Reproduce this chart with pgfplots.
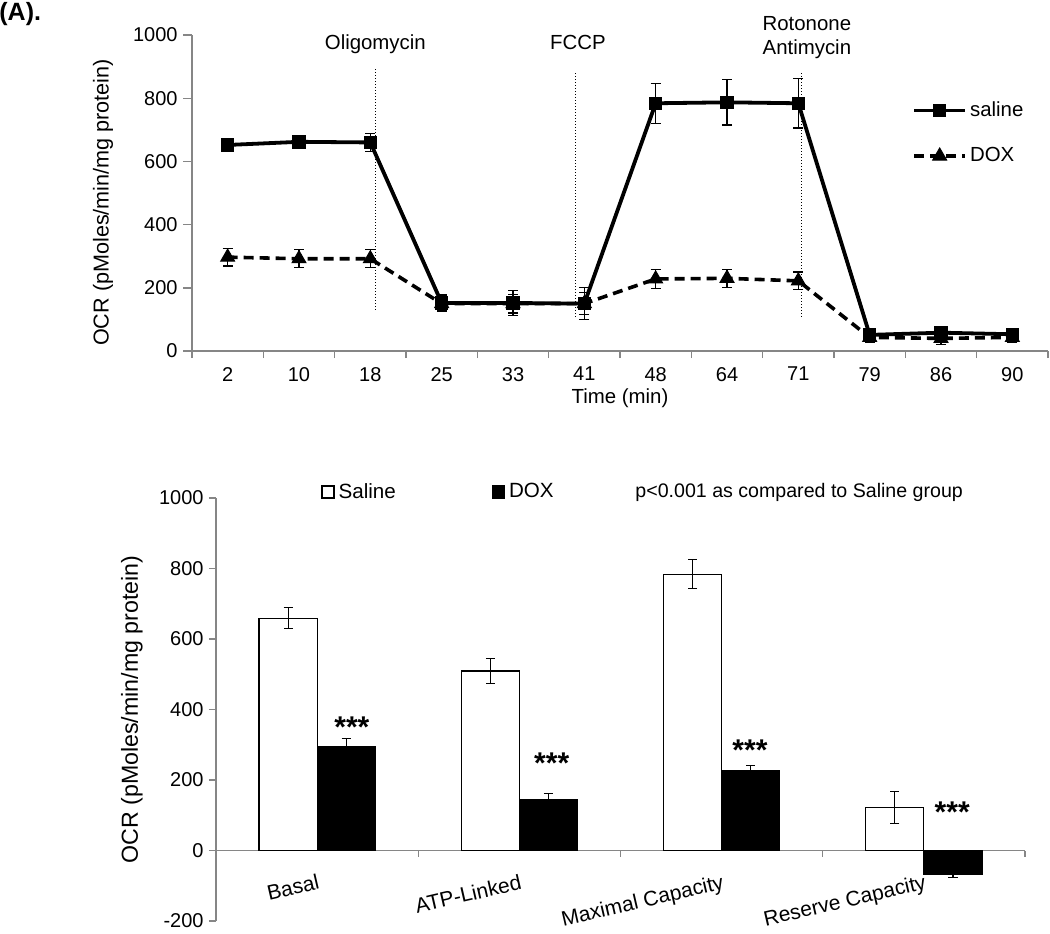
\documentclass[border=0pt]{standalone}
\usepackage{fontspec}
\setmainfont{Liberation Sans}
\usepackage{pgfplots}
\pgfplotsset{compat=1.18}
\definecolor{axgray}{RGB}{134,134,134}
\pgfplotsset{
  myaxis/.style={
    scale only axis,
    /pgf/number format/assume math mode=true,
    /pgf/number format/set thousands separator={},
    tick label style={font=\fontsize{10}{12}\selectfont, black},
    yticklabel style={xshift=0.8pt},
    axis line style={axgray, line width=0.7pt},
    tick style={axgray, line width=0.7pt},
    tick align=outside,
    clip=false,
    hide obscured x ticks=false,
    hide obscured y ticks=false,
  },
  sqlegend/.style={
    legend image code/.code={\draw[##1, line width=0.6pt] (0pt,-3pt) rectangle (6pt,3pt);}
  },
  errs/.style={
    error bars/.cd, y dir=both, y explicit,
    error bar style={line width=0.6pt, solid, black},
    error mark options={rotate=90, mark size=#1, line width=0.6pt, solid, black}
  },
}
\begin{document}
\begin{tikzpicture}
\useasboundingbox (0pt,0pt) rectangle (525pt,-466.5pt);
\node[anchor=west, inner sep=0pt, font=\bfseries\fontsize{12.5}{13}\selectfont] at (-0.5pt,-7pt) {(A).};

% ---------------- top: OCR time course ----------------
\begin{axis}[myaxis,
  at={(96pt,-175.5pt)}, anchor=south west,
  width=428pt, height=158pt,
  xmin=0.5, xmax=12.5, ymin=0, ymax=1000,
  axis x line*=bottom, axis y line*=left,
  ytick={0,200,...,1000},
  major tick length=4.5pt,
  xtick={1,...,12},
  xticklabels={2,10,18,25,33,41,48,64,71,79,86,90},
  xtick style={draw=none},
  extra x ticks={0.5,1.5,...,12.5},
  extra x tick labels={},
  extra x tick style={xtick style={draw=axgray}, major tick length=3.5pt},
  ylabel={OCR (pMoles/min/mg protein)},
  ylabel style={at={(axis description cs:-0.104,0.47)}, anchor=center, font=\fontsize{10.8}{12}\selectfont},
  xlabel={Time (min)},
  xlabel style={at={(axis description cs:0.5,-0.149)}, anchor=center, font=\fontsize{10.2}{12}\selectfont},
  legend style={draw=none, fill=none, inner sep=0pt, at={(axis description cs:0.841,0.80)}, anchor=north west,
    row sep=11pt, font=\fontsize{10.2}{12}\selectfont, nodes={inner sep=1.5pt}},
  legend cell align=left,
  reverse legend,
  legend image code/.code={\draw[mark repeat=2,mark phase=2,#1] plot coordinates {(0pt,0pt) (12.75pt,0pt) (25.5pt,0pt)};},
]
\addplot[forget plot, black, line width=0.5pt, densely dotted] coordinates {(3.07,130) (3.07,895)};
\addplot[forget plot, black, line width=0.5pt, densely dotted] coordinates {(5.88,108) (5.88,880)};
\addplot[forget plot, black, line width=0.5pt, densely dotted] coordinates {(9.04,108) (9.04,880)};

\addplot[black, line width=1.8pt, dash pattern=on 5pt off 3pt, mark=triangle*, mark size=4pt,
  mark options={solid, line width=0.5pt}, errs=2.5pt] coordinates {
  (1,297) +- (0,28) (2,292) +- (0,28) (3,292) +- (0,28) (4,150) +- (0,25)
  (5,150) +- (0,30) (6,150) +- (0,35) (7,228) +- (0,30) (8,230) +- (0,28)
  (9,222) +- (0,28) (10,43) +- (0,15) (11,40) +- (0,20) (12,43) +- (0,15)};
\addlegendentry{DOX}
\addplot[black, line width=1.9pt, mark=square*, mark size=3.1pt,
  mark options={solid, line width=0.5pt}, errs=2.5pt] coordinates {
  (1,652) +- (0,15) (2,662) +- (0,15) (3,660) +- (0,28) (4,152) +- (0,25)
  (5,152) +- (0,40) (6,150) +- (0,50) (7,784) +- (0,63) (8,787) +- (0,72)
  (9,784) +- (0,78) (10,51) +- (0,15) (11,58) +- (0,15) (12,53) +- (0,15)};
\addlegendentry{saline}

\node[anchor=base, font=\fontsize{10.2}{12}\selectfont] at (axis cs:3.07,953) {Oligomycin};
\node[anchor=base, font=\fontsize{10.2}{12}\selectfont] at (axis cs:5.91,954) {FCCP};
\node[anchor=base, font=\fontsize{10.2}{12}\selectfont] at (axis cs:9.12,1014) {Rotonone};
\node[anchor=base, font=\fontsize{10.2}{12}\selectfont] at (axis cs:9.12,937) {Antimycin};
\end{axis}

% ---------------- bottom: bar chart ----------------
\begin{axis}[myaxis,
  at={(108pt,-460.5pt)}, anchor=south west,
  width=404.5pt, height=211.5pt,
  xmin=-0.5, xmax=3.5, ymin=-200, ymax=1000,
  axis x line*=middle, axis y line*=left,
  ytick={-200,0,...,1000},
  major tick length=3.5pt,
  ybar=0pt, bar width=0.287,
  xtick={0,1,2,3},
  xticklabels={Basal,ATP-Linked,Maximal Capacity,Reserve Capacity},
  xtick style={draw=none},
  extra x ticks={0.5,1.5,2.5,3.5},
  extra x tick labels={},
  extra x tick style={xtick style={draw=axgray}, major tick length=3pt},
  xticklabel style={yshift=-8pt, rotate=13, anchor=north east, inner sep=0pt, font=\fontsize{10.5}{12}\selectfont},
  ylabel={OCR (pMoles/min/mg protein)},
  ylabel style={at={(axis description cs:-0.104,0.5)}, anchor=center, font=\fontsize{11.6}{13}\selectfont},
  legend columns=2,
  legend style={draw=none, fill=none, inner sep=0pt, at={(axis description cs:0.1298,1.014)}, anchor=west,
    font=\fontsize{10.3}{12}\selectfont, nodes={inner sep=2pt},
    /tikz/every even column/.append style={column sep=46pt}},
  every axis plot post/.append style={sqlegend},
]
\addplot[fill=white, draw=black, line width=0.6pt, errs=2.3pt] coordinates {
  (0,659) +- (0,30) (1,509) +- (0,35) (2,784) +- (0,41) (3,122) +- (0,45)};
\addlegendentry{Saline}
\addplot[fill=black, draw=black, line width=0.6pt, errs=2.3pt] coordinates {
  (0,294) +- (0,23) (1,145) +- (0,17) (2,228) +- (0,13) (3,-67) +- (0,10)};
\addlegendentry{DOX}

\node[anchor=west, inner sep=0pt, font=\fontsize{9.8}{12}\selectfont] at (axis description cs:0.518,1.014) {p<0.001 as compared to Saline group};

\node[font=\bfseries\fontsize{15}{15}\selectfont] at (axis cs:0.172,351) {***};
\node[font=\bfseries\fontsize{15}{15}\selectfont] at (axis cs:1.16,248) {***};
\node[font=\bfseries\fontsize{15}{15}\selectfont] at (axis cs:2.14,284) {***};
\node[font=\bfseries\fontsize{15}{15}\selectfont] at (axis cs:3.14,110) {***};
\end{axis}
\end{tikzpicture}
\end{document}
